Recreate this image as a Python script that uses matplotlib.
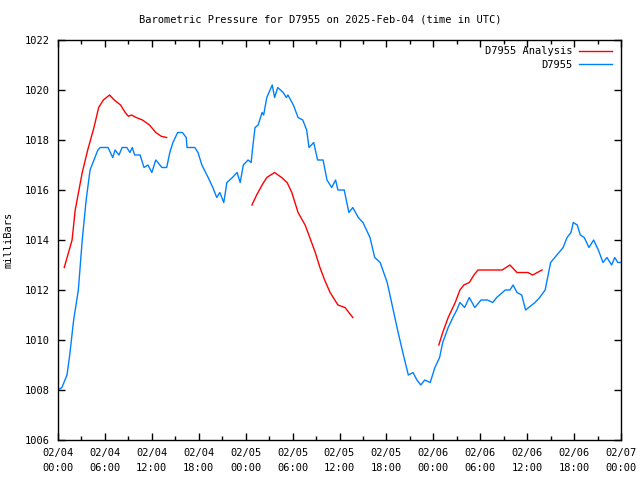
import matplotlib
matplotlib.use("Agg")
import matplotlib.pyplot as plt
import numpy as np

# Observed station series (hours since 2025-02-04 00:00 UTC, millibars)
obs_hours = [0, 0.5, 1.15, 1.5, 2.0, 2.6, 3.1, 3.6, 4.1, 4.6, 5.1, 5.4, 6.4, 7.0, 7.3, 7.8,
             8.2, 8.8, 9.2, 9.5, 9.8, 10.5, 11.0, 11.5, 12.0, 12.5, 13.3, 13.9, 14.3, 14.7,
             15.3, 15.9, 16.4, 16.5, 17.5, 17.9, 18.4, 19.2, 19.8, 20.3, 20.7, 21.2, 21.6,
             22.3, 22.9, 23.3, 23.7, 24.3, 24.7, 24.9, 25.2, 25.6, 26.1, 26.3, 26.7, 27.4,
             27.7, 28.1, 28.8, 29.2, 29.4, 30.1, 30.7, 31.3, 31.8, 32.1, 32.7, 33.2, 33.9,
             34.4, 35.0, 35.5, 35.8, 36.6, 37.2, 37.7, 38.4, 39.0, 39.9, 40.5, 41.2, 42.1,
             42.8, 43.5, 44.1, 44.8, 45.4, 45.9, 46.4, 46.9, 47.6, 48.2, 48.8, 49.2, 49.9,
             50.5, 51.0, 51.4, 52.0, 52.6, 53.3, 54.1, 54.9, 55.6, 56.1, 57.2, 57.8, 58.2,
             58.7, 59.3, 59.8, 60.6, 61.0, 61.6, 62.3, 63.0, 63.8, 64.6, 65.1, 65.6, 65.9,
             66.4, 66.8, 67.3, 67.9, 68.5, 69.1, 69.7, 70.2, 70.8, 71.2, 71.6, 72.0]
obs_values = [1008.0, 1008.1, 1008.6, 1009.4, 1010.8, 1012.0, 1014.0, 1015.6, 1016.8, 1017.2,
              1017.6, 1017.7, 1017.7, 1017.3, 1017.6, 1017.4, 1017.7, 1017.7, 1017.5, 1017.7,
              1017.4, 1017.4, 1016.9, 1017.0, 1016.7, 1017.2, 1016.9, 1016.9, 1017.5, 1017.9,
              1018.3, 1018.3, 1018.1, 1017.7, 1017.7, 1017.5, 1017.0, 1016.5, 1016.1, 1015.7,
              1015.9, 1015.5, 1016.3, 1016.5, 1016.7, 1016.3, 1017.0, 1017.2, 1017.1, 1017.7,
              1018.5, 1018.6, 1019.1, 1019.0, 1019.7, 1020.2, 1019.7, 1020.1, 1019.9, 1019.7,
              1019.8, 1019.4, 1018.9, 1018.8, 1018.4, 1017.7, 1017.9, 1017.2, 1017.2, 1016.4,
              1016.1, 1016.4, 1016.0, 1016.0, 1015.1, 1015.3, 1014.9, 1014.7, 1014.1, 1013.3,
              1013.1, 1012.3, 1011.3, 1010.3, 1009.5, 1008.6, 1008.7, 1008.4, 1008.2, 1008.4,
              1008.3, 1008.9, 1009.3, 1009.9, 1010.5, 1010.9, 1011.2, 1011.5, 1011.3, 1011.7,
              1011.3, 1011.6, 1011.6, 1011.5, 1011.7, 1012.0, 1012.0, 1012.2, 1011.9, 1011.8,
              1011.2, 1011.4, 1011.5, 1011.7, 1012.0, 1013.1, 1013.4, 1013.7, 1014.1, 1014.3,
              1014.7, 1014.6, 1014.2, 1014.1, 1013.7, 1014.0, 1013.6, 1013.1, 1013.3, 1013.0,
              1013.3, 1013.1, 1013.1]

# Analysis series, three separate segments
ana1_hours = [0.8, 1.8, 2.2, 3.1, 3.8, 4.6, 5.2, 5.8, 6.2, 6.6, 7.2, 8.0, 8.6, 9.0, 9.4, 10.0,
              10.8, 11.7, 12.5, 13.2, 13.9]
ana1_values = [1012.9, 1014.0, 1015.2, 1016.7, 1017.6, 1018.5, 1019.3, 1019.6, 1019.7, 1019.8,
               1019.6, 1019.4, 1019.1, 1018.95, 1019.0, 1018.9, 1018.8, 1018.6, 1018.3, 1018.15,
               1018.1]
ana2_hours = [24.8, 25.4, 26.1, 26.7, 27.7, 28.6, 29.3, 29.9, 30.3, 30.7, 31.6, 32.2, 32.9,
              33.5, 34.1, 34.8, 35.8, 36.7, 37.7]
ana2_values = [1015.4, 1015.8, 1016.2, 1016.5, 1016.7, 1016.5, 1016.3, 1015.9, 1015.5, 1015.1,
               1014.6, 1014.1, 1013.5, 1012.9, 1012.4, 1011.9, 1011.4, 1011.3, 1010.9]
ana3_hours = [48.7, 49.2, 49.9, 50.8, 51.4, 51.9, 52.6, 53.2, 53.7, 54.3, 55.5, 56.8, 57.3,
              57.8, 58.7, 60.1, 60.7, 61.3, 61.9]
ana3_values = [1009.8, 1010.3, 1010.9, 1011.5, 1012.0, 1012.2, 1012.3, 1012.6, 1012.8, 1012.8,
               1012.8, 1012.8, 1012.9, 1013.0, 1012.7, 1012.7, 1012.6, 1012.7, 1012.8]

x_ticks = [0, 6, 12, 18, 24, 30, 36, 42, 48, 54, 60, 66, 72]
x_labels = ["02/04\n00:00", "02/04\n06:00", "02/04\n12:00", "02/04\n18:00",
            "02/05\n00:00", "02/05\n06:00", "02/05\n12:00", "02/05\n18:00",
            "02/06\n00:00", "02/06\n06:00", "02/06\n12:00", "02/06\n18:00",
            "02/07\n00:00"]
y_ticks = [1006, 1008, 1010, 1012, 1014, 1016, 1018, 1020, 1022]

plt.rcParams['font.family'] = ['DejaVu Sans Mono']
plt.rcParams['font.size'] = 7.5

fig = plt.figure(figsize=(6.4, 4.8), dpi=100)
ax = fig.add_axes([58/640, 40/480, 563/640, 400/480])

red = "#ff0000"
blue = "#0080ff"
ax.plot(ana1_hours, ana1_values, color=red, lw=1.0, label="D7955 Analysis")
ax.plot(ana2_hours, ana2_values, color=red, lw=1.0)
ax.plot(ana3_hours, ana3_values, color=red, lw=1.0)
ax.plot(obs_hours, obs_values, color=blue, lw=1.0, label="D7955")

ax.set_xlim(0, 72)
ax.set_ylim(1006, 1022)
ax.set_xticks(x_ticks)
ax.set_xticklabels(x_labels, linespacing=1.6)
ax.set_xticks(np.arange(3, 72, 6), minor=True)
ax.set_yticks(y_ticks)
ax.tick_params(which='both', direction='in', top=True, right=True, width=1.0)
ax.tick_params(which='major', length=5, pad=6)
ax.tick_params(which='minor', length=3)
ax.tick_params(axis='y', pad=6)
for s in ax.spines.values():
    s.set_linewidth(1.0)

ax.set_ylabel("milliBars", labelpad=8)
fig.text(0.5, 1 - 20/480, "Barometric Pressure for D7955 on 2025-Feb-04 (time in UTC)",
         ha='center', va='center', fontsize=7.5)

leg = ax.legend(loc='upper right', frameon=False, markerfirst=False, handlelength=3.2,
                handletextpad=0.6, borderaxespad=0.2, labelspacing=0.35,
                bbox_to_anchor=(0.995, 1.0))
for t in leg.get_texts():
    t.set_ha('right')
leg._legend_box.align = "right"

fig.savefig("out.png", dpi=100)
